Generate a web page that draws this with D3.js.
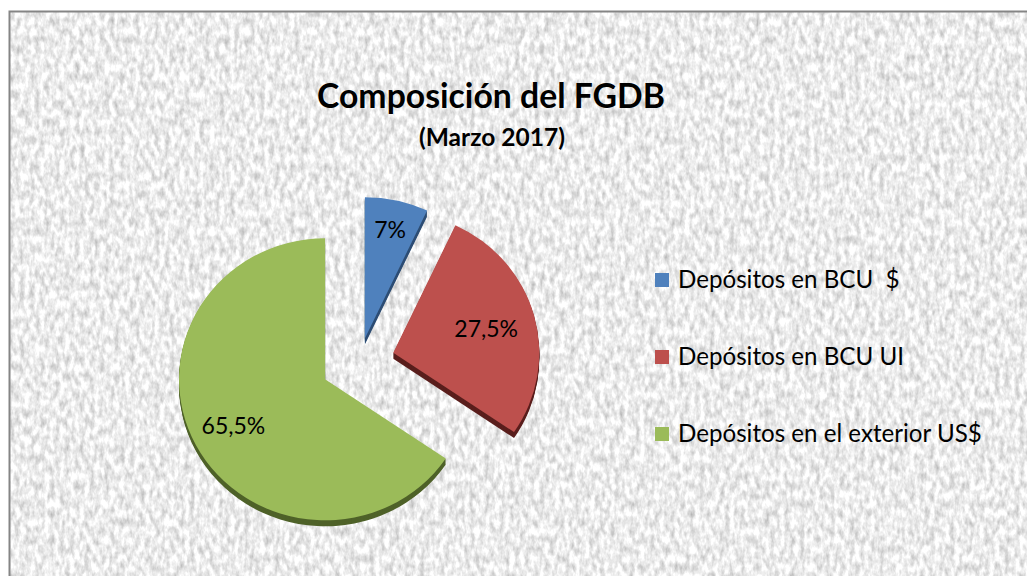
<!DOCTYPE html>
<html>
<head>
<meta charset="utf-8">
<script src="https://cdn.jsdelivr.net/npm/d3@7"></script>
<style>
  html, body { margin: 0; padding: 0; background: #ffffff; overflow: hidden; }
  svg { display: block; }
  text { font-family: Lato, "Open Sans", sans-serif; }
</style>
</head>
<body>
<svg id="chart" width="1027" height="576"></svg>
<script>
// ---- data ----
const categories = ["Depósitos en BCU  $", "Depósitos en BCU UI", "Depósitos en el exterior US$"];
const values = [7, 27.5, 65.5];
const valueLabels = ["7%", "27,5%", "65,5%"];
const titleText = "Composición del FGDB";
const subtitleText = "(Marzo 2017)";

// ---- style ----
const topColors = ["#4f81bd", "#bd504d", "#9bbb59"];
const sideColors = ["#2d4d74", "#5a1f1d", "#4f6229"];
const explode = [25, 35, 39];
const labelFrac = [0.79, 0.66, 0.71];

const W = 1027, H = 576;
const svg = d3.select("#chart");
const defs = svg.append("defs");

// granite texture
const f = defs.append("filter").attr("id", "granite")
  .attr("x", 0).attr("y", 0).attr("width", 1).attr("height", 1)
  .attr("color-interpolation-filters", "sRGB");
f.append("feTurbulence").attr("type", "fractalNoise")
  .attr("baseFrequency", "0.2 0.11").attr("numOctaves", 3).attr("seed", 3);
f.append("feColorMatrix").attr("type", "matrix")
  .attr("values", "0.45 0 0 0 0.7  0.45 0 0 0 0.7  0.45 0 0 0 0.7  0 0 0 0 1");

// background frame
svg.append("rect").attr("x", 10).attr("y", 12).attr("width", W - 10).attr("height", H - 12)
  .attr("filter", "url(#granite)");
svg.append("path")
  .attr("d", d3.line()([[9.5, H + 2], [9.5, 11.5], [W + 2, 11.5]]))
  .attr("fill", "none").attr("stroke", "#858585").attr("stroke-width", 2);

// fit helper
function fitFont(sel, target) {
  let fs = parseFloat(sel.attr("font-size"));
  const w = sel.node().getComputedTextLength();
  sel.attr("font-size", (fs * target / w).toFixed(2));
}

// titles
const title = svg.append("text").attr("x", 491).attr("y", 108)
  .attr("text-anchor", "middle").attr("font-weight", "bold").attr("font-size", 30)
  .attr("fill", "#000").text(titleText);
fitFont(title, 348);
const sub = svg.append("text").attr("x", 492).attr("y", 146)
  .attr("text-anchor", "middle").attr("font-weight", "bold").attr("font-size", 20)
  .attr("fill", "#000").text(subtitleText);
fitFont(sub, 146);

// pie
const cx = 359.5, cy = 361.7, rx = 146, ry = 141;
const sy = ry / rx;
const pie = d3.pie().sort(null).value(d => d)(values);
const arc = d3.arc().innerRadius(0).outerRadius(rx);
const depth = 6;

const g = svg.append("g").attr("transform", `translate(${cx},${cy})`);
pie.forEach((p, i) => {
  const m = (p.startAngle + p.endAngle) / 2;
  p.ox = Math.sin(m) * explode[i];
  p.oy = -Math.cos(m) * explode[i] * sy;
});
// sides
pie.forEach((p, i) => {
  for (let k = depth; k >= 1; k--) {
    g.append("path").attr("d", arc(p))
      .attr("transform", `translate(${p.ox},${p.oy + k}) scale(1,${sy})`)
      .attr("fill", sideColors[i]);
  }
});
// tops
pie.forEach((p, i) => {
  g.append("path").attr("d", arc(p))
    .attr("transform", `translate(${p.ox},${p.oy}) scale(1,${sy})`)
    .attr("fill", topColors[i]);
});
// labels
pie.forEach((p, i) => {
  const r = rx * labelFrac[i];
  const c = d3.arc().innerRadius(r).outerRadius(r).centroid(p);
  g.append("text")
    .attr("x", p.ox + c[0]).attr("y", p.oy + c[1] * sy)
    .attr("dy", "0.36em")
    .attr("text-anchor", "middle").attr("font-size", 23).attr("fill", "#000")
    .text(valueLabels[i]);
});

// legend
const lg = svg.append("g");
const legendY = d3.scalePoint().domain(categories).range([280, 434]);
let legTexts = [];
categories.forEach((c, i) => {
  const y = legendY(c);
  lg.append("rect").attr("x", 655).attr("y", y - 7).attr("width", 14).attr("height", 14)
    .attr("fill", topColors[i]);
  const t = lg.append("text").attr("x", 678).attr("y", y + 7.5)
    .attr("font-size", 22).attr("fill", "#000")
    .style("white-space", "pre").text(c);
  legTexts.push(t);
});
const wLong = legTexts[2].node().getComputedTextLength();
const fsLeg = (22 * 304 / wLong).toFixed(2);
legTexts.forEach(t => t.attr("font-size", fsLeg));
</script>
</body>
</html>
